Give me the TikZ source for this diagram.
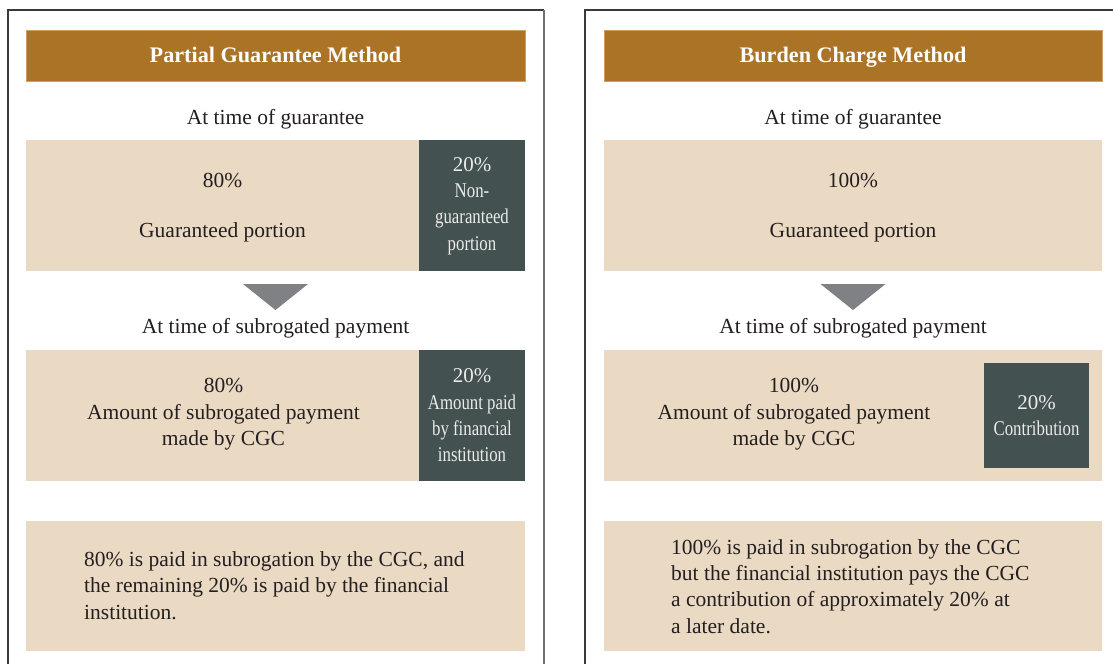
\documentclass[tikz,border=0pt]{standalone}
\usepackage{fontspec}
\setmainfont{Liberation Serif}
\definecolor{hdr}{HTML}{AA7325}
\definecolor{hdredge}{HTML}{D0A062}
\definecolor{beige}{HTML}{EAD9C3}
\definecolor{slate}{HTML}{435150}
\definecolor{tri}{HTML}{808184}
\definecolor{ink}{HTML}{231F20}
\definecolor{framec}{HTML}{3A3A3A}
\definecolor{framel}{HTML}{707070}
\newcommand\cnd[1]{\scalebox{0.8}[1]{#1}}
\begin{document}
\begin{tikzpicture}[x=1pt,y=-1pt,
  panel/.style={inner sep=0pt, outer sep=0pt, anchor=north west, draw=none},
  header/.style={panel, fill=hdr, draw=hdredge, line width=0.8pt},
  lightbox/.style={panel, fill=beige},
  darkbox/.style={panel, fill=slate},
  hdrtext/.style={text=white, font=\fontsize{22.2}{26}\selectfont\bfseries, inner sep=0pt, anchor=base},
  body/.style={text=ink, font=\fontsize{21.5}{26.5}\selectfont, inner sep=0pt, align=center},
  darktext/.style={text=white!92!black, font=\fontsize{21}{26.3}\selectfont, inner sep=0pt, align=center},
  lefttext/.style={text=ink, font=\fontsize{21.5}{26.2}\selectfont, inner sep=0pt, align=left, anchor=west},
  arrowtri/.style={fill=tri, draw=none},
  frameline/.style={draw=framec, line width=1.6pt}
]
\useasboundingbox (0,0) rectangle (1113,664);
\fill[white] (0,0) rectangle (1113,664);

% frames
\draw[frameline] (8,664) -- (8,10) -- (544,10);
\draw[draw=framel, line width=1.4pt] (544,10) -- (544,664);
\draw[frameline] (585,664) -- (585,10) -- (1113,10);

% ---------- left panel ----------
\node[header, minimum width=499pt, minimum height=51pt] (hL) at (26,30) {};
\node[hdrtext] (hLt) at (275.5,62.5) {Partial Guarantee Method};

\node[body] (sL1) at (275.5,119) {At time of guarantee};

\node[lightbox, minimum width=393pt, minimum height=131pt] (gL) at (26,140) {};
\node[darkbox, minimum width=106pt, minimum height=131pt] (nL) at (419,140) {};
\node[body] (gLp) at (222.5,180) {80\%};
\node[body] (gLt) at (222.5,232) {Guaranteed portion};
\node[darktext] (nLt) at (472,206) {20\%\\\cnd{Non-}\\\cnd{guaranteed}\\\cnd{portion}};

\fill[arrowtri] (243,284) -- (308,284) -- (275.5,310) -- cycle;

\node[body] (sL2) at (275.5,328) {At time of subrogated payment};

\node[lightbox, minimum width=393pt, minimum height=131pt] (pL) at (26,350) {};
\node[darkbox, minimum width=106pt, minimum height=131pt] (fL) at (419,350) {};
\node[body] (pLt) at (223.5,414.5) {80\%\\Amount of subrogated payment\\made by CGC};
\node[darktext] (fLt) at (472,415.5) {20\%\\\cnd{Amount paid}\\\cnd{by financial}\\\cnd{institution}};

\node[lightbox, minimum width=499pt, minimum height=130pt] (eL) at (26,521) {};
\node[lefttext] (eLt) at (84,585.5) {80\% is paid in subrogation by the CGC, and\\the remaining 20\% is paid by the financial\\institution.};

% ---------- right panel ----------
\node[header, minimum width=498pt, minimum height=51pt] (hR) at (604,30) {};
\node[hdrtext] (hRt) at (853,62.5) {Burden Charge Method};

\node[body] (sR1) at (853,119) {At time of guarantee};

\node[lightbox, minimum width=498pt, minimum height=131pt] (gR) at (604,140) {};
\node[body] (gRp) at (853,180) {100\%};
\node[body] (gRt) at (853,232) {Guaranteed portion};

\fill[arrowtri] (820.5,284) -- (885.5,284) -- (853,310) -- cycle;

\node[body] (sR2) at (853,328) {At time of subrogated payment};

\node[lightbox, minimum width=498pt, minimum height=131pt] (pR) at (604,350) {};
\node[darkbox, minimum width=105pt, minimum height=105pt] (cR) at (984,363) {};
\node[body] (pRt) at (794,414.5) {100\%\\Amount of subrogated payment\\made by CGC};
\node[darktext] (cRt) at (cR.center) {20\%\\\cnd{Contribution}};

\node[lightbox, minimum width=498pt, minimum height=130pt] (eR) at (604,521) {};
\node[lefttext] (eRt) at (671,586.5) {100\% is paid in subrogation by the CGC\\but the financial institution pays the CGC\\a contribution of approximately 20\% at\\a later date.};
\end{tikzpicture}
\end{document}
